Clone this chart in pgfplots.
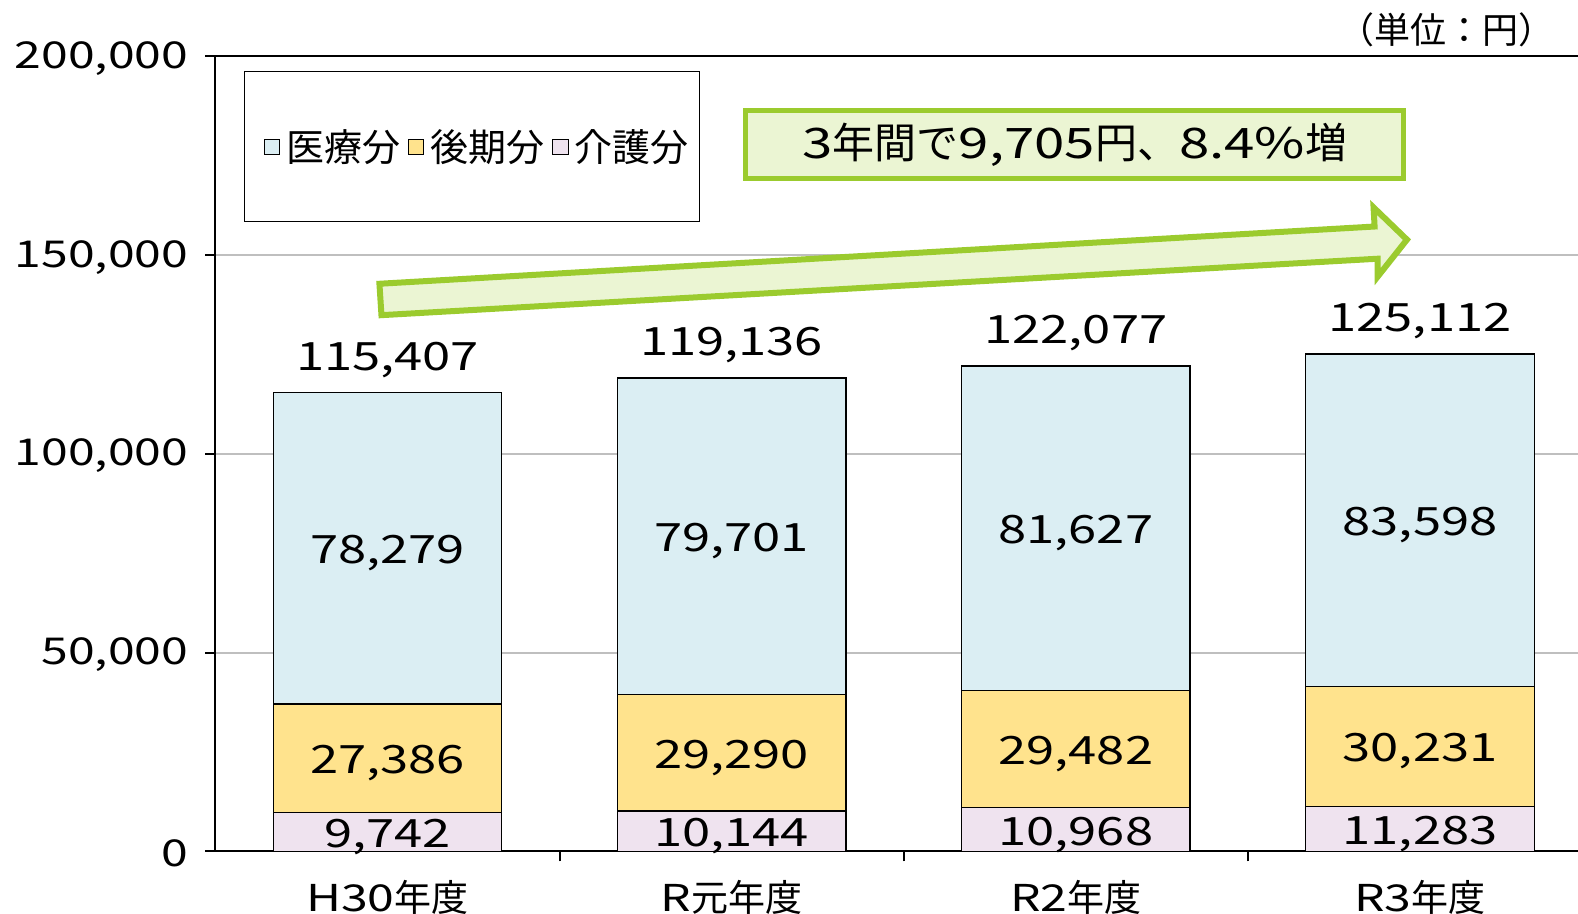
\documentclass[border=0pt]{standalone}
\usepackage{fontspec}
\setmainfont{Noto Sans CJK JP}
\newfontfamily\numf{Noto Sans CJK JP}[FakeStretch=1.3]
\usepackage{pgfplots}
\pgfplotsset{compat=1.18}
\definecolor{iryo}{HTML}{DBEEF3}
\definecolor{kouki}{HTML}{FFE38D}
\definecolor{kaigo}{HTML}{EFE3EF}
\definecolor{lgreen}{HTML}{9BCB2E}
\definecolor{lfill}{HTML}{EBF5D3}
\pgfplotsset{sqleg/.style={legend image code/.code={\draw[##1, line width=0.5pt] (0pt,-3.8pt) rectangle (7.6pt,3.8pt);}}}

\newcommand{\lab}{\numf\fontsize{19.5}{19.5}\selectfont}
\tikzset{seg/.style={font=\lab, yshift=-2.5pt}}

\begin{document}
\begin{tikzpicture}
\begin{axis}[
  at={(0,0)}, anchor=south west,
  scale only axis, width=681.3pt, height=397.5pt,
  ybar stacked, bar width=0.664,
  xmin=-0.5, xmax=3.459, ymin=0, ymax=200000,
  clip=false,
  axis x line*=bottom, axis y line*=left,
  axis line style={line width=1pt, black},
  ytick={0,50000,100000,150000},
  extra y ticks={200000},
  extra y tick style={grid style={black, line width=1pt}},
  ymajorgrids, grid style={black!25, line width=0.9pt},
  tick style={black, line width=1pt}, tick align=outside, major tick length=5pt,
  scaled y ticks=false,
  /pgf/number format/fixed,
  /pgf/number format/1000 sep={,},
  /pgf/number format/assume math mode=true,
  yticklabel style={font=\numf\fontsize{18.5}{18.5}\selectfont, xshift=-5pt, yshift=-1pt},
  xtick={0.5,1.5,2.5}, xticklabels={},
  extra x ticks={0,1,2,3},
  extra x tick labels={{\numf H30}年度, {\numf R}元年度, {\numf R2}年度, {\numf R3}年度},
  extra x tick style={grid=none, tick style={draw=none}},
  xticklabel style={font=\fontsize{18.5}{18.5}\selectfont, yshift=-6pt},
  legend style={draw=none, fill=none, at={(0.193,0.886)}, anchor=center,
    legend columns=3, font=\fontsize{19}{19}\selectfont,
    /tikz/every even column/.append style={column sep=2pt},
    /tikz/every odd column/.append style={column sep=1pt}},
  legend cell align=left,
  reverse legend,
]
\draw[black, line width=0.6pt, fill=white] (axis description cs:0.0214,0.981) rectangle (axis description cs:0.3552,0.7924);

\addplot[fill=kaigo, draw=black, line width=0.7pt, sqleg]
  coordinates {(0,9742) (1,10144) (2,10968) (3,11283)};
\addplot[fill=kouki, draw=black, line width=0.7pt, sqleg]
  coordinates {(0,27386) (1,29290) (2,29482) (3,30231)};
\addplot[fill=iryo, draw=black, line width=0.7pt, sqleg]
  coordinates {(0,78279) (1,79701) (2,81627) (3,83598)};
\legend{介護分\ ,後期分\ ,医療分\ }

% segment label positions (midpoints of each segment)
\coordinate (k0) at (axis cs:0,4871);
\coordinate (k1) at (axis cs:1,5072);
\coordinate (k2) at (axis cs:2,5484);
\coordinate (k3) at (axis cs:3,5641);
\coordinate (b0) at (axis cs:0,23435);
\coordinate (b1) at (axis cs:1,24789);
\coordinate (b2) at (axis cs:2,25709);
\coordinate (b3) at (axis cs:3,26398);
\coordinate (m0) at (axis cs:0,76267);
\coordinate (m1) at (axis cs:1,79284);
\coordinate (m2) at (axis cs:2,81263);
\coordinate (m3) at (axis cs:3,83313);

% totals
\node[font=\lab, anchor=south, yshift=4pt] at (axis cs:0,115407) {115,407};
\node[font=\lab, anchor=south, yshift=4pt] at (axis cs:1,119136) {119,136};
\node[font=\lab, anchor=south, yshift=4pt] at (axis cs:2,122077) {122,077};
\node[font=\lab, anchor=south, yshift=4pt] at (axis cs:3,125112) {125,112};

% arrow
\draw[draw=lgreen, fill=lfill, line width=3pt, line join=miter]
  (axis cs:-0.0175,134900) -- (axis cs:-0.0234,142800) -- (axis cs:2.868,157200)
  -- (axis cs:2.865,162000) -- (axis cs:2.962,153900) -- (axis cs:2.877,144600)
  -- (axis cs:2.877,149100) -- cycle;

% annotation
\node[draw=lgreen, line width=2.5pt, fill=lfill, minimum width=329pt, minimum height=34pt,
  font=\fontsize{21}{21}\selectfont] at (axis cs:1.997,177800)
  {{\numf 3}年間で{\numf 9,705}円、{\numf 8.4\%}増};

\node[anchor=east, font=\fontsize{18}{18}\selectfont] at (axis description cs:0.988,1.033) {（単位：円）};
\end{axis}
\node[seg] at (k0) {9,742};
\node[seg] at (k1) {10,144};
\node[seg] at (k2) {10,968};
\node[seg] at (k3) {11,283};
\node[seg] at (b0) {27,386};
\node[seg] at (b1) {29,290};
\node[seg] at (b2) {29,482};
\node[seg] at (b3) {30,231};
\node[seg] at (m0) {78,279};
\node[seg] at (m1) {79,701};
\node[seg] at (m2) {81,627};
\node[seg] at (m3) {83,598};
\pgfresetboundingbox
\path (-107.7pt,-31.3pt) rectangle (681.3pt,425.7pt);
\end{tikzpicture}
\end{document}
